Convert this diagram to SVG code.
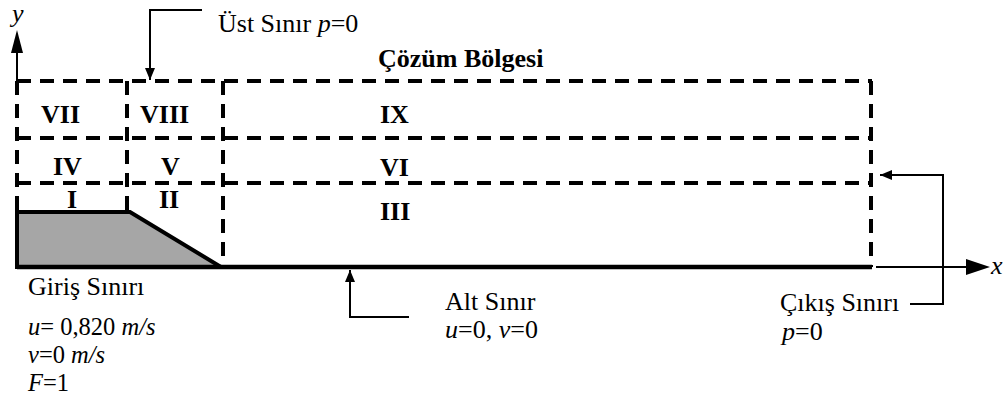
<svg xmlns="http://www.w3.org/2000/svg" width="1003" height="408" viewBox="0 0 1003 408">
<style>
text{font-family:'Liberation Serif','DejaVu Serif',serif;font-size:26px;fill:#000}
.b{font-weight:bold;font-size:26px}
.i{font-style:italic}
.s{font-size:24.5px}
.d{stroke:#000;stroke-width:4;stroke-dasharray:14 9;fill:none}
.c{stroke:#000;stroke-width:2;fill:none}
</style>
<defs>
<marker id="ah" viewBox="0 0 12 10" refX="12" refY="5" markerWidth="12" markerHeight="10" markerUnits="userSpaceOnUse" orient="auto">
<path d="M0,0 L12,5 L0,10 Z" fill="#000"/>
</marker>
</defs>
<g id="region">
<polygon points="17,212 130,212 221,267 17,267" fill="#a6a6a6" stroke="#000" stroke-width="4" stroke-linejoin="miter"/>
<line x1="17" y1="267" x2="872" y2="267" stroke="#000" stroke-width="4.5"/>
</g>
<g id="grid">
<line class="d" x1="17" y1="81" x2="872" y2="81"/>
<line class="d" x1="17" y1="138" x2="872" y2="138"/>
<line class="d" x1="17" y1="183" x2="872" y2="183"/>
<line class="d" x1="17" y1="81" x2="17" y2="212"/>
<line class="d" x1="127" y1="81" x2="127" y2="212"/>
<line class="d" x1="223" y1="81" x2="223" y2="267"/>
<line class="d" x1="871" y1="81" x2="871" y2="267"/>
</g>
<g id="axes">
<line x1="17" y1="81" x2="17" y2="52" stroke="#000" stroke-width="2"/>
<polygon points="17,30 11,53 23,53" fill="#000"/>
<text class="i" x="12" y="22">y</text>
<line x1="876" y1="267" x2="968" y2="267" stroke="#000" stroke-width="2"/>
<polygon points="990,267 966,259 966,275" fill="#000"/>
<text class="i" x="991" y="274">x</text>
</g>
<g id="connectors">
<path class="c" d="M202,10 H150 V80" marker-end="url(#ah)"/>
<path class="c" d="M409,317 H350 V270" marker-end="url(#ah)"/>
<path class="c" d="M910,304 H943 V175 H880" marker-end="url(#ah)"/>
</g>
<g id="labels">
<text x="218" y="32">Üst Sınır <tspan class="i">p</tspan>=0</text>
<text class="b" x="378" y="67">Çözüm Bölgesi</text>
<text class="b" x="41" y="123">VII</text>
<text class="b" x="140" y="123">VIII</text>
<text class="b" x="380" y="123">IX</text>
<text class="b" x="53" y="175">IV</text>
<text class="b" x="161" y="175">V</text>
<text class="b" x="380" y="176">VI</text>
<text class="b" x="67" y="208">I</text>
<text class="b" x="159" y="208">II</text>
<text class="b" x="380" y="220">III</text>
<text x="28" y="295">Giriş Sınırı</text>
<text class="s" x="28" y="335"><tspan class="i">u</tspan>= 0,820 <tspan class="i">m/s</tspan></text>
<text class="s" x="28" y="363"><tspan class="i">v</tspan>=0 <tspan class="i">m/s</tspan></text>
<text class="s" x="28" y="391"><tspan class="i">F</tspan>=1</text>
<text x="445" y="310">Alt Sınır</text>
<text x="445" y="338"><tspan class="i">u</tspan>=0, <tspan class="i">v</tspan>=0</text>
<text x="780" y="311">Çıkış Sınırı</text>
<text x="782" y="340"><tspan class="i">p</tspan>=0</text>
</g>
</svg>
